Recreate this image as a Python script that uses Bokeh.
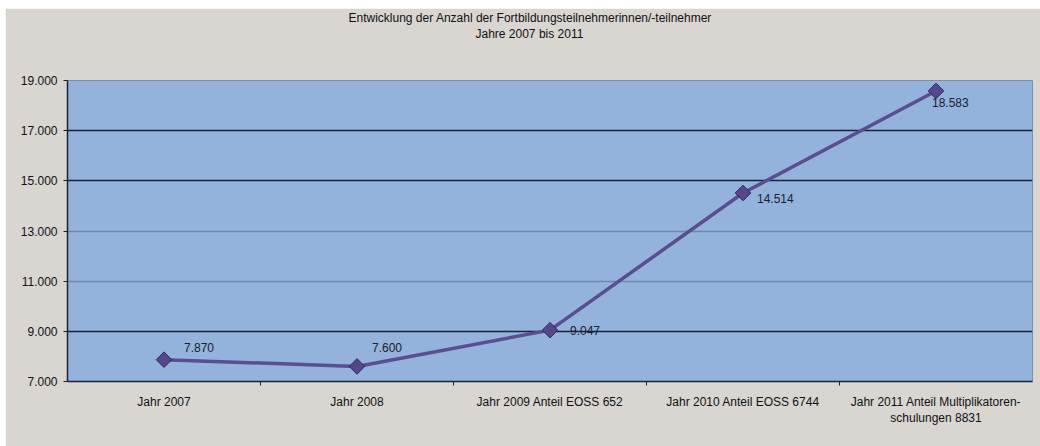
import math
from bokeh.plotting import figure
from bokeh.models import (Range1d, FixedTicker, Grid, ColumnDataSource, LabelSet, Title)
from bokeh.core.properties import value
from bokeh.embed import file_html
from bokeh.resources import INLINE

# ---- data ----
categories = ["Jahr 2007", "Jahr 2008", "Jahr 2009 Anteil EOSS 652",
              "Jahr 2010 Anteil EOSS 6744",
              "Jahr 2011 Anteil Multiplikatoren-\nschulungen 8831"]
teilnehmer = [7870, 7600, 9047, 14514, 18583]
value_labels = ["7.870", "7.600", "9.047", "14.514", "18.583"]
y_ticks = [7000, 9000, 11000, 13000, 15000, 17000, 19000]
y_tick_labels = ["7.000", "9.000", "11.000", "13.000", "15.000", "17.000", "19.000"]
title_line1 = "Entwicklung der Anzahl der Fortbildungsteilnehmerinnen/-teilnehmer"
title_line2 = "Jahre 2007 bis 2011"

FONT = "Liberation Sans"
FS = "12px"
n = len(categories)
xs = [i + 0.5 for i in range(n)]

p = figure(width=1035, height=438, output_backend="svg", toolbar_location=None,
           x_range=Range1d(0, n), y_range=Range1d(7000, 19000),
           min_border_left=62, min_border_right=8, min_border_top=72, min_border_bottom=65,
           margin=(8, 0, 0, 5))

p.background_fill_color = "#93b3dd"
p.border_fill_color = "#d9d5d1"
p.outline_line_color = "#7d8da5"
p.outline_line_width = 1

# titles: first added sits closest to the frame
p.title = None
spacer = Title(text=" ", text_font_size=FS, standoff=24)
t2 = Title(text=title_line2, align="left", offset=408, text_font=FONT, text_font_size=FS,
           text_font_style="normal", text_color="#111111", standoff=0)
t1 = Title(text=title_line1, align="left", offset=281, text_font=FONT, text_font_size=FS,
           text_font_style="normal", text_color="#111111", standoff=0)
p.add_layout(spacer, "above")
p.add_layout(t2, "above")
p.add_layout(t1, "above")

# y axis
p.yaxis.ticker = FixedTicker(ticks=y_ticks)
p.yaxis.major_label_overrides = {t_: l for t_, l in zip(y_ticks, y_tick_labels)}
p.yaxis.major_label_text_font = FONT
p.yaxis.major_label_text_font_size = FS
p.yaxis.major_label_text_font_style = "normal"
p.yaxis.major_label_text_color = "#111111"
p.yaxis.axis_line_color = "#1b2235"
p.yaxis.axis_line_width = 1.5
p.yaxis.major_tick_line_color = "#1b2235"
p.yaxis.major_tick_out = 4
p.yaxis.major_tick_in = 0
p.yaxis.minor_tick_line_color = None
p.yaxis.major_label_standoff = 6

# x axis: labels at category centres, ticks at boundaries
p.xaxis.ticker = FixedTicker(ticks=xs, minor_ticks=list(range(1, n)))
p.xaxis.major_label_overrides = {x: c for x, c in zip(xs, categories)}
p.xaxis.major_tick_line_color = None
p.xaxis.minor_tick_line_color = "#1b2235"
p.xaxis.minor_tick_out = 4
p.xaxis.minor_tick_in = 0
p.xaxis.axis_line_color = "#1b2235"
p.xaxis.axis_line_width = 1.5
p.xaxis.major_label_text_font = FONT
p.xaxis.major_label_text_font_size = FS
p.xaxis.major_label_text_color = "#111111"
p.xaxis.major_label_standoff = 7

# grids
p.xgrid.visible = False
p.ygrid.ticker = FixedTicker(ticks=[9000, 15000, 17000])
p.ygrid.grid_line_color = "#16233a"
p.ygrid.grid_line_width = 1.5
light = Grid(dimension=1, ticker=FixedTicker(ticks=[11000, 13000]),
             grid_line_color="#6f87ab", grid_line_width=1.5)
p.add_layout(light)

src = ColumnDataSource(dict(x=xs, y=teilnehmer, lab=value_labels,
                            xo=[20, 15, 20, 14, -4], yo=[12, 19, 0, -5, -12]))

p.line("x", "y", source=src, line_color="#5b4d90", line_width=3.5)
p.scatter("x", "y", source=src, marker="square", size=11, angle=math.pi / 4,
          fill_color="#54478a", line_color="#2e2858", line_width=1)

labels = LabelSet(x="x", y="y", text="lab", source=src, x_offset="xo", y_offset="yo",
                  text_font=value(FONT), text_font_size=value(FS), text_color="#1c2030",
                  text_baseline="middle", text_align="left")
p.add_layout(labels)

open("out.html", "w").write(file_html(p, INLINE))
